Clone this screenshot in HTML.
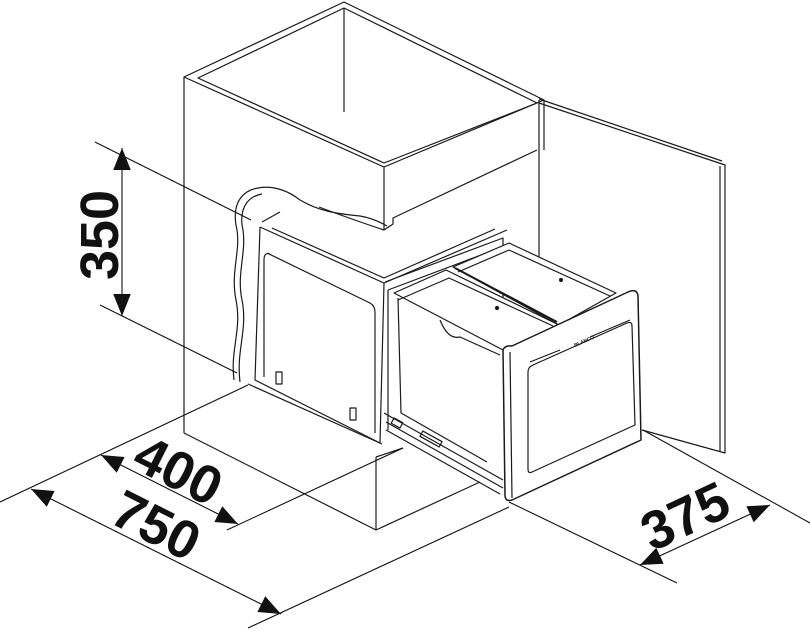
<!DOCTYPE html>
<html><head><meta charset="utf-8"><style>
html,body{margin:0;padding:0;background:#fff;}
svg{display:block}
text{font-family:"Liberation Sans",sans-serif;font-weight:bold;fill:#111}
</style></head><body>
<svg width="810" height="631" viewBox="0 0 810 631" xmlns="http://www.w3.org/2000/svg">
<defs>
<marker id="a" viewBox="0 0 10 10" refX="10" refY="5" markerWidth="9" markerHeight="9" orient="auto-start-reverse" markerUnits="userSpaceOnUse">
<path d="M0,1.5 L10,5 L0,8.5 z" fill="#111"/></marker>
<marker id="b" viewBox="0 0 10 10" refX="10" refY="5" markerWidth="28" markerHeight="22" orient="auto-start-reverse" markerUnits="userSpaceOnUse">
<path d="M0,1 L10,5 L0,9 z" fill="#111"/></marker>
</defs>
<g fill="none" stroke="#1a1a1a" stroke-width="1.2" stroke-linejoin="round">
<!-- sink -->
<polygon points="184,77 344,2 544,100 384,167" fill="#fff"/>
<polygon points="198,78 344,8 537,103 384,163"/>
<line x1="344" y1="8" x2="344" y2="112"/>
<polyline points="384,167 384,230 393,224 393,218 537,150"/>
<line x1="544" y1="100" x2="544" y2="150"/>
<!-- cabinet -->
<line x1="184" y1="77" x2="184" y2="433"/>
<line x1="539" y1="100" x2="539" y2="290"/>
<polyline points="184,433 376,530 480,482"/>
<line x1="376" y1="457" x2="376" y2="530"/>
<polyline points="376,457 403,448"/>
<line x1="248" y1="384" x2="382" y2="444"/>
<!-- right panel -->
<polyline points="539,103 725,165 725,453 642,430"/>
<polyline points="539,99 722,161"/>
<line x1="720" y1="166" x2="720" y2="452"/>
<!-- wavy hose -->
<path d="M234,380 C230,350 242,330 236,300 C230,270 242,250 236,225 C232,200 245,190 258,188 C275,185 290,192 300,200 C320,212 340,214 360,216 C372,218 380,222 387,226"/>
<path d="M240,382 C236,350 248,330 242,300 C236,272 248,250 242,225 C240,205 250,196 262,194"/>
<path d="M319,207 C340,215 360,222 384,230"/>
<!-- left carcass -->
<polyline points="260,227 384,283 507,230"/>
<polyline points="262,222 280,212 M490,214 507,224 507,230"/>
<polyline points="272,228 384,278 495,229"/>
<polyline points="260,227 255,380 380,443 384,283"/>
<path d="M267,253 L370,303 Q375,306 375,312 L375,433 M264,377 L264,260 Q264,252 270,254"/>
<rect x="276" y="372" width="6" height="12"/>
<rect x="350" y="408" width="6" height="12"/>
<!-- drawer back frame -->
<polyline points="385,282 503,238 503,350"/>
<polyline points="388,290 505,246"/>
<line x1="388" y1="290" x2="388" y2="430"/>
<!-- bins -->
<polygon points="394,293 446,270 559,325 503,350" fill="#fff"/>
<polygon points="453,267 509,243 616,293 559,325" fill="#fff"/>
<polyline points="398,300 449,278 553,326"/>
<polyline points="458,272 509,250 610,296"/>
<line x1="455" y1="268" x2="557" y2="322" stroke-width="2"/>
<path d="M398,298 L401,413 L487,462 M440,320 Q448,340 460,337 L500,355"/>
<circle cx="497" cy="308" r="1.5" fill="#111"/>
<circle cx="561" cy="280" r="1.5" fill="#111"/>
<!-- rails -->
<polyline points="384,413 503,480"/>
<polyline points="386,422 503,488"/>
<polyline points="386,430 500,494"/>
<rect x="392" y="420" width="10" height="6" transform="rotate(29 397 423)"/>
<rect x="420" y="436" width="22" height="6" transform="rotate(29 431 439)"/>
<!-- drawer front panel -->
<path d="M503,350 Q505,345 512,346 L628,292 Q637,288 638,296 L641,440 L512,500 Q505,502 505,495 Z" fill="#fff" stroke-width="1.5"/>
<line x1="510" y1="352" x2="512" y2="498"/>
<path d="M528,372 Q528,367 533,365 L627,323 Q632,321 632,326 L635,425 L532,472 Q528,474 528,469 Z"/>
<line x1="530" y1="362" x2="560" y2="350"/>
<line x1="590" y1="337" x2="630" y2="320"/>
<text x="575" y="347" font-size="5" transform="rotate(-24 575 347)" stroke="none">BLANCO</text>
</g>
<!-- dimensions -->
<g stroke="#111" stroke-width="1.1" fill="none">
<line x1="95" y1="142" x2="251" y2="220"/>
<line x1="100" y1="305" x2="237" y2="373"/>
<line x1="122" y1="148" x2="122" y2="316" marker-start="url(#b)" marker-end="url(#b)"/>
<line x1="0" y1="502" x2="248" y2="385"/>
<line x1="227" y1="530" x2="403" y2="448"/>
<line x1="248" y1="628" x2="509" y2="507"/>
<line x1="101" y1="455" x2="238" y2="524" marker-start="url(#b)" marker-end="url(#b)"/>
<line x1="31" y1="489" x2="281" y2="614" marker-start="url(#b)" marker-end="url(#b)"/>
<line x1="509" y1="502" x2="677" y2="583"/>
<line x1="643" y1="430" x2="810" y2="523"/>
<line x1="640" y1="565" x2="770" y2="505" marker-start="url(#b)" marker-end="url(#b)"/>
</g>
<text x="0" y="0" font-size="54" text-anchor="middle" transform="translate(118,235) rotate(-90)">350</text>
<text x="0" y="0" font-size="54" text-anchor="middle" transform="translate(170,487) rotate(26.7)">400</text>
<text x="0" y="0" font-size="54" text-anchor="middle" transform="translate(148,542) rotate(26.7)">750</text>
<text x="0" y="0" font-size="54" text-anchor="middle" transform="translate(693,533) rotate(-25)">375</text>
</svg>
</body></html>
